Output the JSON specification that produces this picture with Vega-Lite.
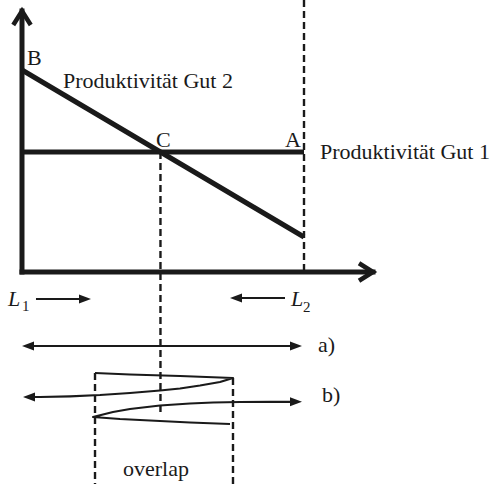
{
  "$schema": "https://vega.github.io/schema/vega-lite/v6.json",
  "width": 493,
  "height": 484,
  "autosize": "none",
  "padding": 0,
  "background": "white",
  "config": {"view": {"stroke": null}},
  "resolve": {"scale": {"shape": "independent"}},
  "datasets": {
    "lines": [
      {"id": "yaxis", "kind": "axis", "ord": 0, "x": 0, "y": 0},
      {"id": "yaxis", "kind": "axis", "ord": 1, "x": 0, "y": 129.2},
      {"id": "xaxis", "kind": "axis", "ord": 0, "x": 0, "y": 0},
      {"id": "xaxis", "kind": "axis", "ord": 1, "x": 124.47, "y": 0},
      {"id": "gut2", "kind": "gut", "ord": 0, "x": 0, "y": 100},
      {"id": "gut2", "kind": "gut", "ord": 1, "x": 100, "y": 17.33},
      {"id": "gut1", "kind": "gut", "ord": 0, "x": 0, "y": 59.41},
      {"id": "gut1", "kind": "gut", "ord": 1, "x": 100, "y": 59.41},
      {"id": "dA", "kind": "guide", "ord": 0, "x": 100, "y": 134.65},
      {"id": "dA", "kind": "guide", "ord": 1, "x": 100, "y": 0},
      {"id": "dC", "kind": "guide", "ord": 0, "x": 49.1, "y": 59.41},
      {"id": "dC", "kind": "guide", "ord": 1, "x": 49.1, "y": -69.8},
      {"id": "dL", "kind": "guide", "ord": 0, "x": 25.89, "y": -50},
      {"id": "dL", "kind": "guide", "ord": 1, "x": 25.89, "y": -104.95},
      {"id": "dR", "kind": "guide", "ord": 0, "x": 74.82, "y": -52.48},
      {"id": "dR", "kind": "guide", "ord": 1, "x": 74.82, "y": -104.95},
      {"id": "a", "kind": "thin", "ord": 0, "x": 1.4, "y": -36.63},
      {"id": "a", "kind": "thin", "ord": 1, "x": 97.9, "y": -36.63},
      {"id": "L1", "kind": "thin", "ord": 0, "x": 4.96, "y": -13.37},
      {"id": "L1", "kind": "thin", "ord": 1, "x": 22.7, "y": -13.37},
      {"id": "L2", "kind": "thin", "ord": 0, "x": 76.0, "y": -12.87},
      {"id": "L2", "kind": "thin", "ord": 1, "x": 93.26, "y": -12.87},
      {"id": "b1", "kind": "thin", "ord": 0, "x": 25.89, "y": -50.0},
      {"id": "b1", "kind": "thin", "ord": 1, "x": 38.3, "y": -50.74},
      {"id": "b1", "kind": "thin", "ord": 2, "x": 56.03, "y": -51.49},
      {"id": "b1", "kind": "thin", "ord": 3, "x": 74.82, "y": -52.48},
      {"id": "b1", "kind": "thin", "ord": 4, "x": 70.21, "y": -54.46},
      {"id": "b1", "kind": "thin", "ord": 5, "x": 63.12, "y": -56.19},
      {"id": "b1", "kind": "thin", "ord": 6, "x": 56.03, "y": -57.67},
      {"id": "b1", "kind": "thin", "ord": 7, "x": 48.94, "y": -58.66},
      {"id": "b1", "kind": "thin", "ord": 8, "x": 38.3, "y": -59.9},
      {"id": "b1", "kind": "thin", "ord": 9, "x": 27.66, "y": -60.89},
      {"id": "b1", "kind": "thin", "ord": 10, "x": 17.02, "y": -61.53},
      {"id": "b1", "kind": "thin", "ord": 11, "x": 6.38, "y": -61.88},
      {"id": "b1", "kind": "thin", "ord": 12, "x": 2.13, "y": -61.88},
      {"id": "b2", "kind": "thin", "ord": 0, "x": 97.52, "y": -64.26},
      {"id": "b2", "kind": "thin", "ord": 1, "x": 87.94, "y": -64.26},
      {"id": "b2", "kind": "thin", "ord": 2, "x": 77.3, "y": -64.36},
      {"id": "b2", "kind": "thin", "ord": 3, "x": 67.73, "y": -64.6},
      {"id": "b2", "kind": "thin", "ord": 4, "x": 59.57, "y": -65.1},
      {"id": "b2", "kind": "thin", "ord": 5, "x": 48.94, "y": -66.09},
      {"id": "b2", "kind": "thin", "ord": 6, "x": 38.3, "y": -67.82},
      {"id": "b2", "kind": "thin", "ord": 7, "x": 32.27, "y": -69.31},
      {"id": "b2", "kind": "thin", "ord": 8, "x": 25.18, "y": -71.78},
      {"id": "b2", "kind": "thin", "ord": 9, "x": 34.75, "y": -72.77},
      {"id": "b2", "kind": "thin", "ord": 10, "x": 45.39, "y": -73.51},
      {"id": "b2", "kind": "thin", "ord": 11, "x": 59.57, "y": -74.5},
      {"id": "b2", "kind": "thin", "ord": 12, "x": 73.76, "y": -75.25}
    ],
    "heads": [
      {"id": "a-left", "dir": "left", "x": 0, "y": -36.63},
      {"id": "a-right", "dir": "right", "x": 99.29, "y": -36.63},
      {"id": "L1", "dir": "right", "x": 24.47, "y": -13.37},
      {"id": "L2", "dir": "left", "x": 73.76, "y": -12.87},
      {"id": "b-left", "dir": "left", "x": 0.35, "y": -61.88},
      {"id": "b-right", "dir": "right", "x": 99.29, "y": -64.26}
    ],
    "chevrons": [
      {"id": "yaxis", "dir": "up", "x": 0, "y": 129.2},
      {"id": "xaxis", "dir": "right", "x": 124.47, "y": 0}
    ],
    "labels": [
      {"kind": "main", "label": "B", "x": 1.77, "y": 102.48},
      {"kind": "main", "label": "Produktivität Gut 2", "x": 14.54, "y": 91.09},
      {"kind": "main", "label": "C", "x": 47.52, "y": 61.88},
      {"kind": "main", "label": "A", "x": 93.26, "y": 61.88},
      {"kind": "main", "label": "Produktivität Gut 1", "x": 105.67, "y": 55.94},
      {"kind": "main", "label": "a)", "x": 104.96, "y": -39.6},
      {"kind": "main", "label": "b)", "x": 106.38, "y": -64.36},
      {"kind": "main", "label": "overlap", "x": 35.82, "y": -100.99},
      {"kind": "italic", "label": "L", "x": -4.96, "y": -16.83},
      {"kind": "italic", "label": "L", "x": 95.39, "y": -16.83},
      {"kind": "sub", "label": "1", "x": 0, "y": -19.31},
      {"kind": "sub", "label": "2", "x": 99.65, "y": -19.8}
    ]
  },
  "encoding": {
    "x": {"field": "x", "type": "quantitative", "axis": null, "scale": {"domain": [-7.801, 167.02], "nice": false, "zero": false}},
    "y": {"field": "y", "type": "quantitative", "axis": null, "scale": {"domain": [-104.95, 134.65], "nice": false, "zero": false}}
  },
  "layer": [
    {
      "data": {"name": "lines"},
      "transform": [{"filter": "datum.kind === 'guide'"}],
      "mark": {"type": "line", "color": "#1a1a1a", "strokeWidth": 2.4, "strokeDash": [7, 4], "clip": false},
      "encoding": {"detail": {"field": "id"}, "order": {"field": "ord", "type": "quantitative"}}
    },
    {
      "data": {"name": "lines"},
      "transform": [{"filter": "datum.kind === 'axis'"}],
      "mark": {"type": "line", "color": "#1a1a1a", "strokeWidth": 5, "strokeCap": "square"},
      "encoding": {"detail": {"field": "id"}, "order": {"field": "ord", "type": "quantitative"}}
    },
    {
      "data": {"name": "lines"},
      "transform": [{"filter": "datum.kind === 'gut'"}],
      "mark": {"type": "line", "color": "#1a1a1a", "strokeWidth": 5},
      "encoding": {"detail": {"field": "id"}, "order": {"field": "ord", "type": "quantitative"}}
    },
    {
      "data": {"name": "lines"},
      "transform": [{"filter": "datum.kind === 'thin'"}],
      "mark": {"type": "line", "color": "#1a1a1a", "strokeWidth": 2.2, "strokeJoin": "round"},
      "encoding": {"detail": {"field": "id"}, "order": {"field": "ord", "type": "quantitative"}}
    },
    {
      "data": {"name": "heads"},
      "mark": {"type": "point", "filled": true, "color": "#1a1a1a", "opacity": 1, "size": 144},
      "encoding": {
        "shape": {"field": "dir", "type": "nominal", "legend": null, "scale": {"domain": ["left", "right"], "range": ["M 0 0 L 2 -0.75 L 2 0.75 Z", "M 0 0 L -2 -0.75 L -2 0.75 Z"]}}
      }
    },
    {
      "data": {"name": "chevrons"},
      "mark": {"type": "point", "filled": false, "color": "#1a1a1a", "opacity": 1, "size": 196, "strokeWidth": 4.5, "strokeJoin": "miter"},
      "encoding": {
        "shape": {"field": "dir", "type": "nominal", "legend": null, "scale": {"domain": ["up", "right"], "range": ["M -1.25 2 L 0 0 L 1.25 2", "M -2 -1.25 L 0 0 L -2 1.25"]}}
      }
    },
    {
      "data": {"name": "labels"},
      "transform": [{"filter": "datum.kind === 'main'"}],
      "mark": {"type": "text", "align": "left", "baseline": "alphabetic", "font": "Liberation Serif", "fontSize": 22, "color": "#1a1a1a"},
      "encoding": {"text": {"field": "label"}}
    },
    {
      "data": {"name": "labels"},
      "transform": [{"filter": "datum.kind === 'italic'"}],
      "mark": {"type": "text", "align": "left", "baseline": "alphabetic", "font": "Liberation Serif", "fontStyle": "italic", "fontSize": 22, "color": "#1a1a1a"},
      "encoding": {"text": {"field": "label"}}
    },
    {
      "data": {"name": "labels"},
      "transform": [{"filter": "datum.kind === 'sub'"}],
      "mark": {"type": "text", "align": "left", "baseline": "alphabetic", "font": "Liberation Serif", "fontSize": 15, "color": "#1a1a1a"},
      "encoding": {"text": {"field": "label"}}
    }
  ]
}
